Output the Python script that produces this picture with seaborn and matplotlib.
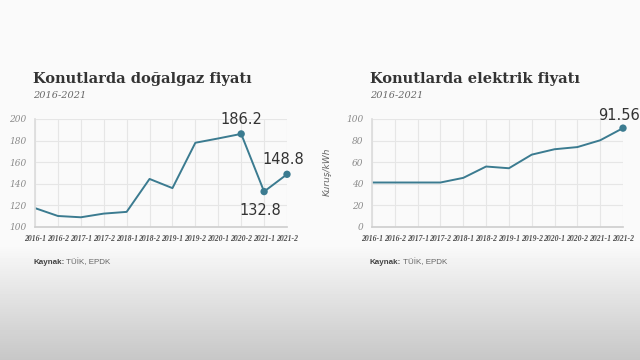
import numpy as np
import pandas as pd
import matplotlib
matplotlib.use("Agg")
import matplotlib.pyplot as plt
import seaborn as sns

periods = ["2016-1", "2016-2", "2017-1", "2017-2", "2018-1", "2018-2",
           "2019-1", "2019-2", "2020-1", "2020-2", "2021-1", "2021-2"]
gas_price = [117.5, 110.2, 109.0, 112.4, 114.0, 144.5, 136.0, 178.0, 182.0, 186.2, 132.8, 148.8]
elec_price = [41.2, 41.2, 41.2, 41.2, 45.5, 56.0, 54.4, 67.0, 72.0, 74.0, 80.3, 91.56]
gas_ticks = [100, 120, 140, 160, 180, 200]
elec_ticks = [0, 20, 40, 60, 80, 100]

sns.set_theme(style="white")
plt.rcParams['font.family'] = ['DejaVu Sans']

LINE = "#3b7b90"
TICK = "#8a8a8a"

fig = plt.figure(figsize=(6.4, 3.6), dpi=100)

# background gradient
bg = fig.add_axes([0, 0, 1, 1], zorder=-10)
ys = np.linspace(0, 1, 360)
vals = np.where(ys < 0.68, 0.98, 0.98 - (ys - 0.68) / 0.32 * 0.20)
grad = np.tile(vals[:, None], (1, 10))
bg.imshow(grad, cmap="gray", vmin=0, vmax=1, aspect="auto", extent=[0, 1, 1, 0])
bg.set_xlim(0, 1); bg.set_ylim(1, 0)
bg.axis("off")

df = pd.DataFrame({"x": np.arange(len(periods)), "gas": gas_price, "elec": elec_price})

def style_axes(ax, ticks):
    ax.set_facecolor("none")
    ax.set_xlim(0, len(periods) - 1)
    ax.set_ylim(ticks[0], ticks[-1])
    ax.set_xticks(range(len(periods)))
    ax.set_xticklabels(periods)
    ax.set_yticks(ticks)
    ax.grid(True, color="#e6e6e6", linewidth=0.8)
    for s in ["top", "right"]:
        ax.spines[s].set_visible(False)
    ax.spines["left"].set_color("#dddddd")
    ax.spines["bottom"].set_color("#cfcfcf")
    ax.tick_params(axis="both", length=0, pad=6)
    for lab in ax.get_xticklabels():
        lab.set_fontfamily("Liberation Serif")
        lab.set_fontstyle("italic")
        lab.set_fontweight("bold")
        lab.set_fontsize(5.6)
        lab.set_color("#505050")
    for lab in ax.get_yticklabels():
        lab.set_fontfamily("DejaVu Serif")
        lab.set_fontstyle("italic")
        lab.set_fontsize(6.5)
        lab.set_color(TICK)
    ax.set_xlabel("")
    ax.set_ylabel("")

# Left chart
ax1 = fig.add_axes([35/640, 1 - 227/360, 252/640, 108/360])
sns.lineplot(data=df, x="x", y="gas", ax=ax1, color=LINE, linewidth=1.4)
pts = df.iloc[[9, 10, 11]]
sns.scatterplot(data=pts, x="x", y="gas", ax=ax1, color=LINE, s=28, edgecolor="none", zorder=5, clip_on=False)
style_axes(ax1, gas_ticks)
ax1.annotate("186.2", (9, gas_price[9]), xytext=(0, 5), textcoords="offset points",
             ha="center", va="bottom", fontsize=10.5, color="#333333")
ax1.annotate("132.8", (10, gas_price[10]), xytext=(-3, -8), textcoords="offset points",
             ha="center", va="top", fontsize=10.5, color="#333333")
ax1.annotate("148.8", (11, gas_price[11]), xytext=(-3, 5), textcoords="offset points",
             ha="center", va="bottom", fontsize=10.5, color="#333333")

# Right chart
ax2 = fig.add_axes([372/640, 1 - 227/360, 251/640, 108/360])
sns.lineplot(data=df, x="x", y="elec", ax=ax2, color=LINE, linewidth=1.4)
sns.scatterplot(data=df.iloc[[11]], x="x", y="elec", ax=ax2, color=LINE, s=28, edgecolor="none", zorder=5, clip_on=False)
style_axes(ax2, elec_ticks)
ax2.annotate("91.56", (11, elec_price[11]), xytext=(-3, 4), textcoords="offset points",
             ha="center", va="bottom", fontsize=10.5, color="#333333")
fig.text(327/640, 1 - 172/360, "Kuruş/kWh", rotation=90, ha="center", va="center",
         fontsize=6.5, fontstyle="italic", color="#666666")

# Titles
fig.canvas.draw()
renderer = fig.canvas.get_renderer()
for x0, title in [(33, "Konutlarda doğalgaz fiyatı"), (370, "Konutlarda elektrik fiyatı")]:
    fig.text(x0/640, 1 - 79/360, title, fontfamily="DejaVu Serif", fontweight="bold",
             fontsize=10.5, color="#333333", va="center", ha="left")
    fig.text(x0/640, 1 - 95/360, "2016-2021", fontfamily="DejaVu Serif", fontstyle="italic",
             fontsize=7, color="#666666", va="center", ha="left")
    t = fig.text(x0/640, 1 - 262/360, "Kaynak:", fontfamily="Liberation Sans", fontweight="bold",
                 fontsize=5.8, color="#444444", va="center", ha="left")
    w = t.get_window_extent(renderer=renderer).width
    fig.text((x0 + w + 2)/640, 1 - 262/360, "TÜİK, EPDK", fontfamily="Liberation Sans",
             fontsize=5.8, color="#666666", va="center", ha="left")

fig.savefig("out.png", dpi=100)
